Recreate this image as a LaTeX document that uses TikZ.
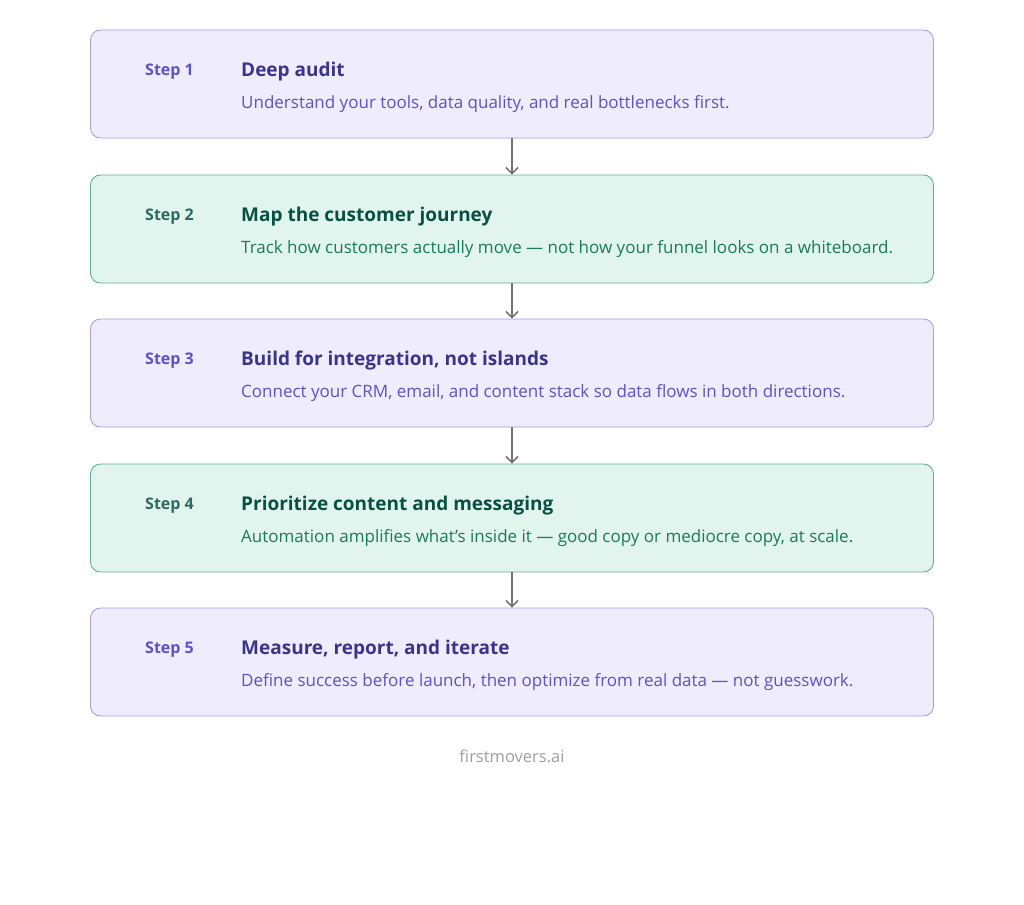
\documentclass[tikz,border=0pt]{standalone}
\usepackage{fontspec}
\setmainfont{Open Sans}
\usetikzlibrary{arrows.meta}
\definecolor{violetfill}{HTML}{EEECFD}
\definecolor{violetline}{HTML}{A69DE3}
\definecolor{violetdark}{HTML}{3C3489}
\definecolor{violettext}{HTML}{5E52C4}
\definecolor{tealfill}{HTML}{E1F5EE}
\definecolor{tealline}{HTML}{5FAF8E}
\definecolor{tealdark}{HTML}{085041}
\definecolor{tealtext}{HTML}{1A7A5C}

\begin{document}
\begin{tikzpicture}[x=1pt, y=-1pt,
  stepbox/.style={draw, rounded corners=10pt, line width=0.9pt, minimum width=843pt, minimum height=108pt, inner sep=0pt},
  violetbox/.style={stepbox, fill=violetfill, draw=violetline},
  tealbox/.style={stepbox, fill=tealfill, draw=tealline},
  steplabel/.style={anchor=mid west, inner sep=0pt, font=\fontsize{16}{19}\selectfont\bfseries},
  titletext/.style={anchor=mid west, inner sep=0pt, font=\fontsize{19}{23}\selectfont\bfseries},
  desctext/.style={anchor=mid west, inner sep=0pt, font=\fontsize{17}{20}\selectfont},
  flow/.style={-{Straight Barb[length=6pt, width=12pt, line width=1.6pt]}, line width=1.8pt, draw=black!55}]
\useasboundingbox (0,0) rectangle (1024,904);
% boxes
\node[violetbox] (box1) at (512,84) {}; \node[tealbox] (box2) at (512,229) {}; \node[violetbox] (box3) at (512,373) {};
\node[tealbox] (box4) at (512,518) {}; \node[violetbox] (box5) at (512,662) {};
% step labels
\node[steplabel, text=violettext] (lbl1) at (145,73) {Step 1}; \node[steplabel, text=tealdark!85] (lbl2) at (145,218) {Step 2};
\node[steplabel, text=violettext] (lbl3) at (145,362) {Step 3}; \node[steplabel, text=tealdark!85] (lbl4) at (145,507) {Step 4};
\node[steplabel, text=violettext] (lbl5) at (145,651) {Step 5};
% titles
\node[titletext, text=violetdark] (ttl1) at (241,74) {Deep audit};
\node[titletext, text=tealdark] (ttl2) at (241,219) {Map the customer journey};
\node[titletext, text=violetdark] (ttl3) at (241,363) {Build for integration, not islands};
\node[titletext, text=tealdark] (ttl4) at (241,508) {Prioritize content and messaging};
\node[titletext, text=violetdark] (ttl5) at (241,652) {Measure, report, and iterate};
% descriptions
\node[desctext, text=violettext] (dsc1) at (241,106) {Understand your tools, data quality, and real bottlenecks first.};
\node[desctext, text=tealtext] (dsc2) at (241,251) {Track how customers actually move — not how your funnel looks on a whiteboard.};
\node[desctext, text=violettext] (dsc3) at (241,395) {Connect your CRM, email, and content stack so data flows in both directions.};
\node[desctext, text=tealtext] (dsc4) at (241,540) {Automation amplifies what's inside it — good copy or mediocre copy, at scale.};
\node[desctext, text=violettext] (dsc5) at (241,684) {Define success before launch, then optimize from real data — not guesswork.};
% arrows
\draw[flow] (box1.south) -- (box2.north); \draw[flow] (box2.south) -- (box3.north);
\draw[flow] (box3.south) -- (box4.north); \draw[flow] (box4.south) -- (box5.north);
\node[text=black!38, font=\fontsize{16.5}{20}\selectfont] (brand) at (512,756) {firstmovers.ai};
\end{tikzpicture}
\end{document}
